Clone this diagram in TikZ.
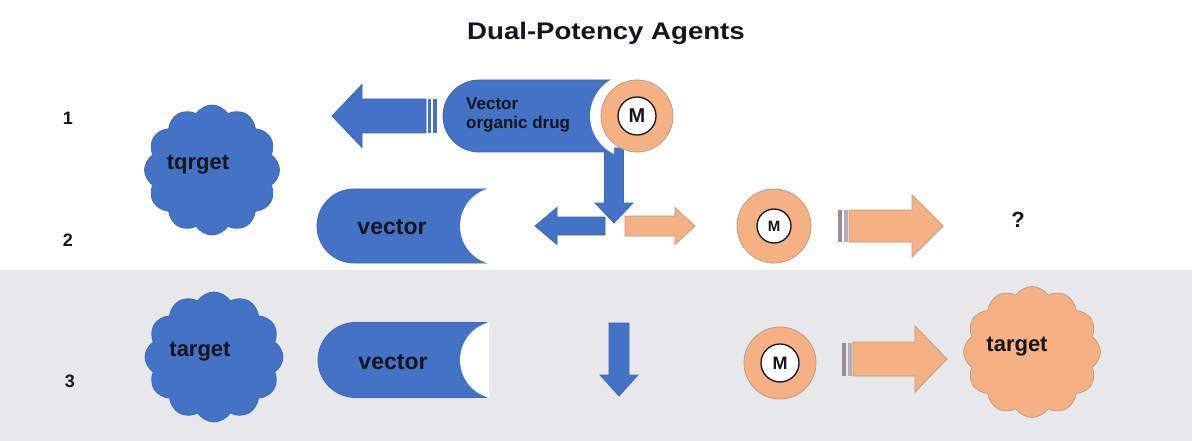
\documentclass[tikz,border=0pt]{standalone}
\usepackage{fontspec}
\setmainfont{Liberation Sans}
\usetikzlibrary{shapes.symbols}
\definecolor{bl}{HTML}{4472C4}
\definecolor{blo}{HTML}{3F69B8}
\definecolor{orf}{HTML}{F4B183}
\definecolor{oro}{HTML}{BE9C88}
\definecolor{band}{HTML}{E8E7EA}
\definecolor{txt}{HTML}{15151F}
\definecolor{stripe}{HTML}{978C9C}
\newcommand\myHArrow[7]{% style, tail, base, tip, cy, hs, hh
  \path[#1] (#2,#5-#6) -- (#3,#5-#6) -- (#3,#5-#7) -- (#4,#5) -- (#3,#5+#7) -- (#3,#5+#6) -- (#2,#5+#6) -- cycle;}
\newcommand\myVArrow[7]{% style, tail, base, tip, cx, hs, hh
  \path[#1] (#5-#6,#2) -- (#5-#6,#3) -- (#5-#7,#3) -- (#5,#4) -- (#5+#7,#3) -- (#5+#6,#3) -- (#5+#6,#2) -- cycle;}
\newcommand\myPill[6]{% xleft, xcorner, cy, halfh, cutcx, cutr
  \path[pillbody] (#2,#3-#4) -- (#1+#4,#3-#4) arc[start angle=270,end angle=90,radius=#4] -- (#2,#3+#4) -- cycle;
  \begin{scope}\clip (#1,#3-#4-2) rectangle (#2+2,#3+#4+2); \fill[white] (#5,#3) circle[radius=#6];\end{scope}}
\begin{document}
\begin{tikzpicture}[x=1pt,y=-1pt,
  lbl/.style={font=\bfseries\fontsize{#1}{#1}\selectfont, text=txt, inner sep=0},
  pillbody/.style={fill=bl, draw=blo, line width=0.8},
  bluearrow/.style={fill=bl, draw=blo, line width=0.8},
  orarrow/.style={fill=orf, draw=oro, line width=0.8},
  bluecloud/.style={cloud, cloud puffs=12, cloud puff arc=115, aspect=1, fill=bl, draw=blo, line width=0.8, inner sep=0},
  orcloud/.style={cloud, cloud puffs=12, cloud puff arc=115, aspect=1, fill=orf, draw=oro, line width=0.8, inner sep=0},
  ring/.style={circle, fill=orf, draw=oro, line width=0.8, inner sep=0},
  hole/.style={circle, fill=white, draw=txt, line width=1.3, inner sep=0}]
\useasboundingbox (0,0) rectangle (1192,441);
\fill[white] (0,0) rectangle (1192,441);
\fill[band] (0,270) rectangle (1192,441);

% title and row numbers
\node[lbl=24, xscale=1.15] (title) at (606,33) {Dual-Potency Agents};
\node[lbl=18] (n1) at (68,118) {1};
\node[lbl=18] (n2) at (68,240) {2};
\node[lbl=18] (n3) at (70,381) {3};

% row 1
\node[bluecloud, minimum width=135, minimum height=130] (c1) at (212,170) {};
\node[lbl=22] (t1) at (198,165) {tqrget};
\myHArrow{bluearrow}{426}{362}{332}{116}{17}{31.5}
\fill[bl] (428,99) rectangle (431,133);
\fill[bl] (433,99) rectangle (437,133);
\myVArrow{bluearrow}{148}{203}{223}{614}{9.5}{19}
\myPill{443}{612}{116}{36}{632}{42}
\node[lbl=17, align=left, anchor=west, font=\bfseries\fontsize{17}{19}\selectfont] (drug) at (466,115) {Vector\\organic drug};
\node[ring, minimum size=72] (r1) at (637,116) {};
\node[hole, minimum size=38] (h1) at (r1) {};
\node[lbl=20] (m1) at (h1) {M};

% row 2
\myPill{317}{487}{226}{37}{499}{39}
\node[lbl=23] (v2) at (392,227) {vector};
\myHArrow{bluearrow}{605}{557}{535}{226}{9}{18.5}
\myHArrow{orarrow}{625}{675}{695}{226}{10}{18.5}
\node[ring, minimum size=74] (r2) at (774,226) {};
\node[hole, minimum size=34] (h2) at (r2) {};
\node[lbl=15] (m2) at (h2) {M};
\fill[stripe] (838,210) rectangle (842,242);
\fill[stripe!70] (844,210) rectangle (848,242);
\myHArrow{orarrow}{849}{912}{943}{226}{16}{31}
\node[lbl=22] (q) at (1018,220) {?};

% row 3
\node[bluecloud, minimum width=138, minimum height=130] (c3) at (214,357) {};
\node[lbl=22] (t3) at (200,352) {target};
\myPill{318}{487}{360}{37.5}{499}{39}
\node[lbl=23] (v3) at (393,362) {vector};
\myVArrow{bluearrow}{323}{375}{396}{619}{10}{19}
\node[ring, minimum size=72] (r3) at (780,363) {};
\node[hole, minimum size=38] (h3) at (r3) {};
\node[lbl=18] (m3) at (h3) {M};
\fill[stripe] (842,343) rectangle (846,376);
\fill[stripe!70] (848,343) rectangle (852,376);
\myHArrow{orarrow}{853}{915}{947}{359}{17}{33}
\node[orcloud, minimum width=137, minimum height=131] (c4) at (1032,352) {};
\node[lbl=22] (t4) at (1017,347) {target};
\end{tikzpicture}
\end{document}
